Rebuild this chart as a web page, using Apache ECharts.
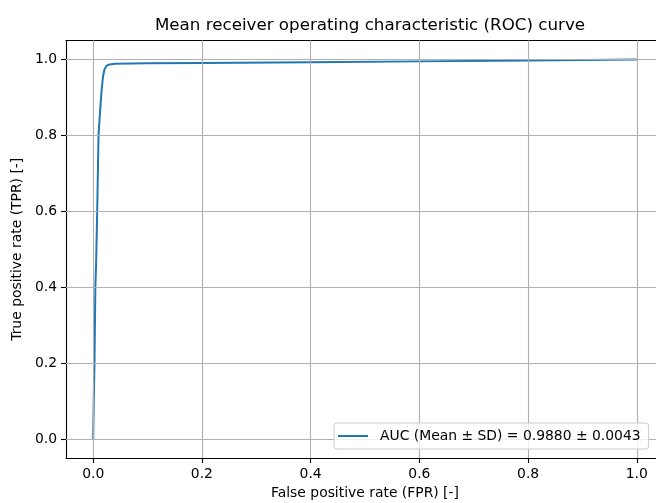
<!DOCTYPE html>
<html>
<head>
<meta charset="utf-8">
<script src="https://cdn.jsdelivr.net/npm/echarts@6/dist/echarts.min.js"></script>
<style>html,body{margin:0;padding:0;background:#fff}#c{width:656px;height:503px}</style>
</head>
<body>
<div id="c"></div>
<script>
const fpr = [0, 0.001, 0.0024, 0.004, 0.0055, 0.0074, 0.0098, 0.0125, 0.015, 0.018, 0.021, 0.025, 0.03, 0.04, 0.1, 0.2, 0.4, 0.6, 0.8, 1.0];
const tpr = [0, 0.1, 0.2, 0.4, 0.47, 0.6, 0.8, 0.86, 0.91, 0.955, 0.975, 0.984, 0.987, 0.989, 0.990, 0.991, 0.993, 0.995, 0.997, 1.0];
const xTicks = [0, 0.2, 0.4, 0.6, 0.8, 1.0];
const yTicks = [0, 0.2, 0.4, 0.6, 0.8, 1.0];
const seriesName = 'AUC (Mean ± SD) = 0.9880 ± 0.0043';
const titleText = 'Mean receiver operating characteristic (ROC) curve';
const xLabel = 'False positive rate (FPR) [-]';
const yLabel = 'True positive rate (TPR) [-]';

const font = 'DejaVu Sans';
const chart = echarts.init(document.getElementById('c'), null, {renderer: 'canvas'});
const fmt = v => (Math.round(v * 10) / 10).toFixed(1);
chart.setOption({
  animation: false,
  backgroundColor: '#fff',
  title: {
    text: titleText, left: 365, textAlign: 'center', top: 12,
    textStyle: {fontFamily: font, fontSize: 16.7, fontWeight: 'normal', color: '#000'}
  },
  legend: {
    left: 334, top: 423, z: 20,
    padding: [6, 8, 6, 4],
    backgroundColor: 'rgba(255,255,255,0.8)',
    borderColor: '#cccccc', borderWidth: 1, borderRadius: 3,
    icon: 'rect', itemWidth: 30, itemHeight: 2,
    textStyle: {fontFamily: font, fontSize: 13.9, color: '#000', padding: [0, 0, 0, 7]},
    data: [seriesName]
  },
  grid: {left: 66, top: 40.5, width: 598, height: 417.5, containLabel: false, outerBoundsMode: 'none'},
  xAxis: [{
    type: 'value', min: -0.05, max: 1.05,
    name: xLabel, nameLocation: 'middle', nameGap: 27,
    nameTextStyle: {fontFamily: font, fontSize: 13.9, color: '#000'},
    axisLine: {show: true, onZero: false, lineStyle: {color: '#000', width: 1.1}},
    axisTick: {show: true, length: 5, customValues: xTicks, lineStyle: {color: '#000', width: 1.1}},
    axisLabel: {fontFamily: font, fontSize: 13.9, color: '#000', margin: 9, customValues: xTicks, formatter: fmt},
    splitLine: {show: false}
  }, {
    type: 'value', position: 'top', min: -0.05, max: 1.05,
    axisLine: {show: true, onZero: false, lineStyle: {color: '#000', width: 1.1}},
    axisTick: {show: false}, axisLabel: {show: false}, splitLine: {show: false}
  }],
  yAxis: [{
    type: 'value', min: -0.05, max: 1.05,
    name: yLabel, nameLocation: 'middle', nameGap: 41,
    nameTextStyle: {fontFamily: font, fontSize: 13.9, color: '#000'},
    axisLine: {show: true, onZero: false, lineStyle: {color: '#000', width: 1.1}},
    axisTick: {show: true, length: 5, customValues: yTicks, lineStyle: {color: '#000', width: 1.1}},
    axisLabel: {fontFamily: font, fontSize: 13.9, color: '#000', margin: 9, customValues: yTicks, formatter: fmt},
    splitLine: {show: false}
  }],
  series: [{
    name: seriesName, type: 'line', xAxisIndex: 0, yAxisIndex: 0,
    data: fpr.map((x, i) => [x, tpr[i]]),
    showSymbol: false, symbol: 'none',
    lineStyle: {color: '#1f77b4', width: 2},
    itemStyle: {color: '#1f77b4'},
    z: 3
  }, {
    type: 'line', xAxisIndex: 0, yAxisIndex: 0, silent: true,
    data: [], symbol: 'none',
    markLine: {
      silent: true, symbol: 'none', label: {show: false},
      lineStyle: {color: '#b0b0b0', width: 1.1, type: 'solid'},
      data: xTicks.map(v => ({xAxis: v})).concat(yTicks.map(v => ({yAxis: v})))
    },
    z: 1
  }]
});
</script>
</body>
</html>
